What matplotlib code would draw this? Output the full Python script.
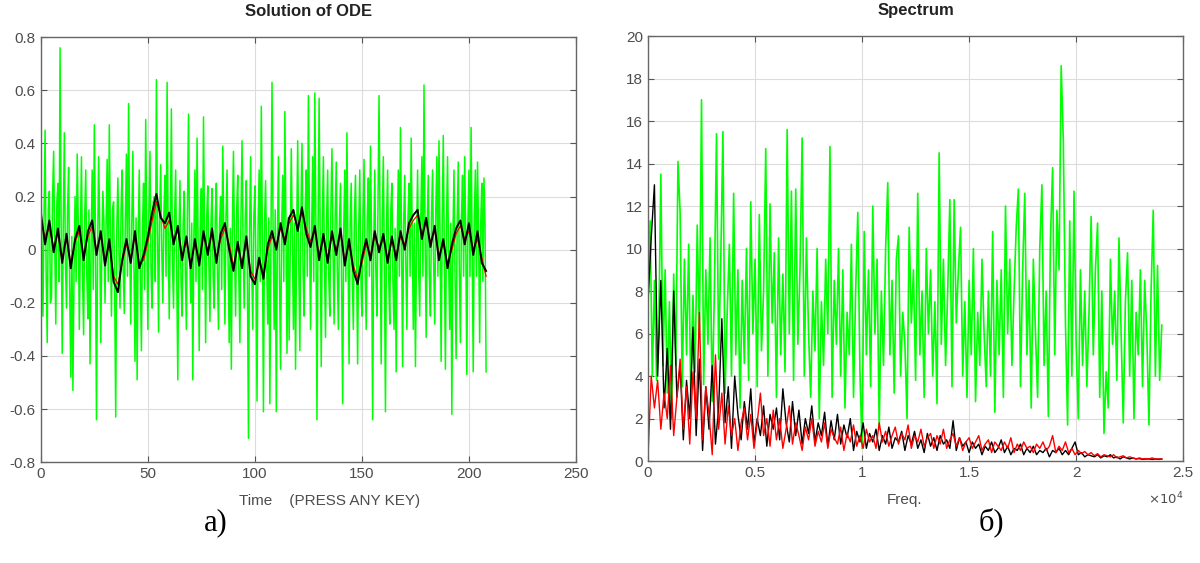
import numpy as np
import matplotlib
matplotlib.use('Agg')
from matplotlib import pyplot as plt
from matplotlib.ticker import FuncFormatter

plt.rcParams['font.family'] = ['Liberation Sans', 'DejaVu Sans']
plt.rcParams['axes.unicode_minus'] = False

# left panel: solution of ODE, sampled over time 0..208
ode_green = [
    0.28, 0.05, -0.25, 0.12, 0.45, -0.1, -0.35, 0.15, 0.22, -0.2, -0.18, 0.2, 0.37, 0.02, -0.28, 0.18, 0.25, -0.12, 0.76, 0.1,
    -0.39, 0.1, 0.44, -0.05, -0.22, 0.15, 0.31, -0.15, -0.48, 0.05, -0.53, -0.1, 0.2, -0.12, 0.36, 0.1, -0.3, 0.05, 0.35, -0.1,
    -0.32, 0.12, 0.3, -0.1, -0.26, 0.15, -0.43, 0.02, 0.3, -0.15, 0.47, 0.08, -0.64, -0.05, 0.35, 0.1, -0.35, 0.0, 0.22, 0.1,
    -0.2, 0.1, 0.34, -0.12, 0.47, 0.05, -0.25, 0.15, 0.18, -0.15, -0.63, 0.08, 0.27, 0.0, -0.22, 0.15, 0.3, -0.08, -0.24, 0.12,
    0.36, -0.1, 0.55, 0.05, -0.28, 0.1, 0.37, -0.05, -0.42, 0.12, -0.49, 0.05, 0.3, -0.1, -0.38, 0.08, 0.25, -0.15, 0.49, 0.05,
    -0.3, 0.15, 0.37, -0.08, -0.22, 0.18, 0.2, -0.12, 0.64, 0.1, -0.31, 0.12, 0.32, 0.0, -0.2, 0.14, 0.28, -0.1, 0.63, 0.05,
    -0.26, 0.08, 0.53, -0.05, -0.22, 0.12, 0.3, -0.1, -0.49, 0.05, 0.26, -0.12, -0.25, 0.1, 0.22, -0.08, -0.3, 0.15, 0.51, 0.02,
    -0.2, 0.1, -0.49, 0.05, 0.3, -0.12, 0.42, 0.0, -0.38, 0.1, 0.23, -0.15, 0.5, 0.05, -0.35, 0.12, 0.24, -0.05, -0.27, 0.1,
    0.23, -0.1, -0.22, 0.12, 0.25, -0.08, -0.3, 0.1, 0.2, -0.15, 0.39, 0.05, -0.28, 0.12, 0.3, -0.05, -0.35, 0.08, -0.45, 0.1,
    0.37, 0.0, -0.25, 0.15, 0.28, -0.1, -0.35, 0.12, 0.41, 0.02, -0.22, 0.12, 0.26, -0.1, -0.71, 0.05, 0.35, -0.05, -0.3, 0.12,
    0.24, -0.08, -0.57, 0.1, 0.3, -0.12, 0.54, 0.05, -0.61, 0.1, 0.26, -0.05, -0.28, 0.12, -0.58, 0.05, 0.63, 0.08, -0.3, 0.15,
    -0.61, 0.02, 0.35, -0.1, -0.45, 0.08, 0.28, -0.12, 0.52, 0.1, -0.39, 0.12, -0.34, -0.02, 0.38, 0.05, -0.3, 0.1, -0.45, 0.05,
    0.41, -0.05, -0.38, 0.12, 0.4, -0.08, -0.25, 0.15, 0.3, -0.1, 0.58, 0.1, -0.3, 0.05, 0.35, -0.12, 0.59, 0.1, -0.64, 0.05,
    0.57, 0.05, -0.44, 0.1, 0.35, -0.05, -0.33, 0.12, 0.3, -0.1, -0.25, 0.15, 0.38, 0.0, -0.28, 0.12, 0.33, -0.08, -0.3, 0.1,
    0.25, -0.1, -0.58, 0.08, 0.3, -0.12, 0.44, 0.02, -0.43, 0.1, 0.25, -0.1, -0.3, 0.12, 0.28, -0.05, -0.43, 0.08, 0.3, -0.1,
    -0.25, 0.12, 0.34, -0.08, -0.3, 0.12, 0.27, -0.1, 0.39, 0.05, -0.64, 0.0, 0.3, -0.08, -0.25, 0.15, 0.58, 0.05, -0.43, 0.1,
    0.35, -0.05, -0.61, 0.1, 0.3, -0.1, -0.28, 0.15, 0.25, -0.12, -0.3, 0.08, -0.46, 0.05, 0.3, -0.1, 0.46, 0.05, -0.44, 0.1,
    0.28, -0.05, -0.3, 0.12, 0.25, -0.1, 0.42, 0.05, -0.3, 0.1, -0.44, 0.02, 0.3, -0.08, -0.25, 0.12, 0.35, -0.1, 0.62, 0.05,
    -0.33, 0.1, 0.28, -0.1, -0.25, 0.12, 0.3, -0.05, -0.28, 0.15, 0.35, -0.1, 0.41, 0.05, -0.42, 0.08, 0.43, 0.0, -0.45, 0.1,
    0.35, -0.05, -0.3, 0.1, -0.62, 0.05, 0.3, -0.1, -0.41, 0.1, 0.33, -0.08, -0.35, 0.12, 0.28, -0.1, 0.35, 0.05, -0.47, 0.1,
    0.3, -0.1, 0.46, 0.0, -0.46, 0.12, 0.3, -0.1, 0.33, 0.05, -0.35, 0.1, 0.25, -0.12, 0.27, 0.1, -0.46,
]
ode_black = [
    0.14, 0.02, 0.11, -0.01, 0.08, -0.05, 0.06, -0.07, 0.04, 0.09,
    -0.04, 0.07, 0.11, -0.02, 0.07, -0.06, 0.04, -0.12, -0.16, -0.04,
    0.04, -0.05, 0.07, -0.07, -0.02, 0.05, 0.14, 0.21, 0.12, 0.1,
    0.14, 0.02, 0.09, -0.04, 0.05, -0.07, 0.04, -0.06, 0.07, -0.02,
    0.08, -0.05, 0.06, 0.1, 0.0, -0.08, 0.03, -0.07, 0.05, -0.1,
    -0.13, -0.03, -0.11, 0.02, 0.07, 0.0, 0.1, 0.02, 0.12, 0.15,
    0.07, 0.16, 0.06, 0.01, 0.09, -0.04, 0.06, -0.05, 0.07, -0.02,
    0.08, -0.06, 0.04, -0.08, -0.13, -0.03, 0.04, -0.04, 0.07, -0.01,
    0.06, -0.05, 0.05, -0.04, 0.07, 0.0, 0.1, 0.13, 0.15, 0.04,
    0.12, 0.01, 0.09, -0.04, 0.04, -0.07, 0.02, 0.08, 0.11, 0.02,
    0.1, -0.02, 0.07, -0.05, -0.08,
]
ode_red = [
    0.1, 0.05, 0.08, 0.01, 0.06, -0.03, 0.04, -0.05, 0.03, 0.07,
    -0.02, 0.05, 0.09, 0.0, 0.05, -0.04, 0.02, -0.1, -0.13, -0.05,
    0.02, -0.03, 0.05, -0.05, -0.04, 0.03, 0.11, 0.18, 0.13, 0.08,
    0.11, 0.04, 0.07, -0.02, 0.03, -0.05, 0.02, -0.04, 0.05, 0.0,
    0.06, -0.03, 0.04, 0.08, 0.02, -0.06, 0.01, -0.05, 0.03, -0.08,
    -0.11, -0.05, -0.09, 0.0, 0.05, 0.02, 0.08, 0.04, 0.1, 0.13,
    0.09, 0.14, 0.08, 0.03, 0.07, -0.02, 0.04, -0.03, 0.05, 0.0,
    0.06, -0.04, 0.02, -0.06, -0.11, -0.05, 0.02, -0.02, 0.05, 0.01,
    0.04, -0.03, 0.03, -0.02, 0.05, 0.02, 0.08, 0.11, 0.13, 0.06,
    0.1, 0.03, 0.07, -0.02, 0.02, -0.05, 0.0, 0.06, 0.09, 0.04,
    0.07, 0.0, 0.04, -0.03, -0.1,
]

# right panel: spectrum, 0..24000 Hz
spec_green = [
    7.2, 11.3, 4.0, 8.5, 3.8, 6.0, 13.5, 4.5, 9.0, 3.2,
    7.5, 2.0, 8.8, 4.5, 14.1, 11.7, 3.5, 9.5, 5.0, 10.2,
    3.0, 7.8, 4.2, 11.1, 6.0, 17.0, 3.6, 9.0, 5.5, 10.5,
    2.8, 8.0, 15.4, 4.8, 9.5, 15.5, 3.2, 7.0, 10.2, 4.0,
    12.6, 5.0, 9.0, 2.5, 8.5, 4.6, 10.0, 3.8, 12.2, 6.0,
    9.5, 3.5, 11.6, 5.2, 8.0, 14.7, 4.0, 12.1, 6.5, 9.8,
    3.0, 10.5, 5.0, 8.8, 4.2, 15.6, 6.0, 12.7, 3.8, 12.8,
    5.5, 9.0, 15.2, 4.0, 10.5, 6.0, 3.0, 8.0, 5.2, 10.0,
    2.0, 7.5, 4.5, 9.5, 6.0, 14.8, 3.0, 8.5, 5.5, 10.0,
    4.0, 9.0, 2.5, 7.0, 5.0, 10.2, 3.0, 8.0, 11.7, 4.2,
    0.6, 10.8, 5.0, 9.0, 3.5, 12.0, 6.0, 9.5, 1.5, 8.0,
    4.5, 10.0, 13.1, 5.0, 8.5, 3.2, 9.5, 10.6, 4.0, 7.0,
    5.5, 2.0, 11.0, 6.5, 9.0, 3.8, 12.6, 5.0, 8.0, 3.0,
    10.0, 6.0, 9.0, 4.0, 7.5, 2.7, 14.5, 5.5, 9.5, 4.5,
    8.0, 12.3, 3.5, 12.3, 6.5, 9.0, 11.0, 4.0, 7.5, 3.0,
    8.5, 5.0, 10.0, 2.8, 7.0, 4.5, 9.5, 6.0, 3.5, 8.0,
    4.0, 10.8, 2.3, 8.5, 5.0, 9.0, 3.0, 12.0, 6.0, 9.5,
    4.5, 8.0, 11.0, 12.8, 3.5, 9.0, 12.6, 5.0, 8.5, 2.5,
    9.5, 6.0, 3.0, 10.0, 13.0, 4.5, 8.0, 2.1, 10.5, 13.8,
    5.0, 11.8, 9.0, 18.6, 15.1, 6.5, 1.7, 11.3, 4.0, 12.7,
    5.5, 2.0, 9.0, 4.5, 8.0, 3.5, 7.0, 11.5, 5.0, 9.0,
    11.2, 3.0, 8.0, 1.3, 4.2, 2.5, 9.5, 5.5, 8.0, 3.8,
    10.5, 6.0, 1.8, 7.5, 9.8, 4.0, 8.5, 2.0, 7.0, 5.0,
    9.0, 3.5, 8.5, 6.0, 1.7, 8.0, 11.8, 4.0, 9.2, 3.8,
    6.4,
]
spec_black = [
    7.5, 10.5, 13.0, 4.0, 8.5, 2.5, 5.3, 1.5, 8.0, 3.0,
    4.5, 1.0, 3.8, 2.0, 6.3, 1.2, 4.8, 0.5, 3.5, 1.5,
    4.5, 0.8, 2.5, 6.7, 1.8, 3.5, 0.6, 4.0, 2.2, 1.0,
    2.8, 1.5, 3.4, 0.8, 2.0, 1.2, 2.6, 0.7, 2.2, 1.5,
    2.5, 1.0, 3.4, 1.8, 0.9, 2.8, 1.2, 2.4, 0.8, 2.0,
    1.3, 2.6, 0.9, 1.8, 1.2, 2.3, 0.7, 1.9, 1.0, 2.2,
    0.8, 1.7, 1.1, 2.0, 0.5, 1.4, 0.9, 1.8, 0.6, 1.3,
    0.9, 1.5, 0.5, 1.2, 0.8, 1.6, 0.6, 1.1, 0.9, 1.4,
    0.5, 1.2, 0.8, 1.4, 0.6, 1.0, 0.4, 1.3, 0.7, 1.1,
    0.5, 1.2, 0.8, 1.0, 0.6, 1.9, 0.5, 1.1, 0.7, 0.9,
    0.4, 0.9, 0.6, 0.8, 0.3, 0.7, 0.5, 0.9, 0.4, 0.6,
    1.0, 0.4, 0.7, 0.3, 0.6, 0.5, 0.8, 0.3, 0.6, 0.4,
    0.7, 0.3, 0.5, 0.4, 0.6, 0.2, 0.5, 0.4, 0.6, 0.3,
    0.5, 0.3, 0.6, 0.9, 0.3, 0.4, 0.2, 0.3, 0.25, 0.2,
    0.3, 0.15, 0.25, 0.2, 0.3, 0.15, 0.2, 0.1, 0.2, 0.15,
    0.1, 0.15, 0.1, 0.12, 0.08, 0.1, 0.1, 0.08, 0.1, 0.08,
    0.1,
]
spec_red = [
    0.2, 4.0, 2.5, 3.8, 1.5, 3.2, 2.0, 4.5, 1.2, 3.0,
    4.8, 1.5, 3.5, 0.8, 4.2, 2.0, 7.0, 1.0, 3.5, 2.2,
    0.3, 5.0, 1.5, 3.2, 0.8, 2.6, 1.2, 2.0, 0.5, 1.8,
    2.5, 1.0, 2.2, 0.6, 1.8, 3.2, 1.2, 2.0, 0.7, 2.4,
    1.0, 2.0, 0.6, 1.5, 2.6, 0.8, 1.8, 1.2, 0.5, 1.6,
    1.0, 2.0, 0.7, 1.4, 0.9, 1.8, 0.6, 1.5, 1.1, 0.8,
    1.6, 0.5, 1.3, 0.9, 1.7, 0.7, 1.2, 0.6, 1.5, 0.9,
    1.2, 0.6, 1.8, 0.9, 1.4, 0.7, 1.2, 1.6, 0.8, 1.3,
    1.0, 1.7, 0.6, 1.2, 0.9, 1.5, 0.7, 1.1, 1.3, 0.6,
    1.2, 0.8, 1.5, 0.6, 1.0, 1.3, 0.7, 1.1, 0.5, 0.9,
    1.1, 0.6, 0.9, 1.2, 0.5, 0.8, 1.0, 0.4, 0.9, 0.7,
    0.5, 0.9, 0.6, 1.1, 0.4, 0.8, 0.5, 0.9, 0.6, 0.7,
    0.4, 0.8, 0.6, 0.9, 0.5, 0.7, 1.2, 0.4, 0.7, 0.5,
    0.9, 0.4, 0.6, 0.3, 0.5, 0.35, 0.45, 0.3, 0.4, 0.25,
    0.35, 0.2, 0.3, 0.25, 0.2, 0.3, 0.15, 0.2, 0.25, 0.15,
    0.2, 0.15, 0.1, 0.15, 0.1, 0.12, 0.1, 0.15, 0.1, 0.1,
    0.1,
]

t_end = 208
f_end = 24000

left_yticks = [-0.8, -0.6, -0.4, -0.2, 0, 0.2, 0.4, 0.6, 0.8]
left_xticks = [0, 50, 100, 150, 200, 250]
right_yticks = [0, 2, 4, 6, 8, 10, 12, 14, 16, 18, 20]
right_xticks = [0, 5000, 10000, 15000, 20000, 25000]

GREEN = '#00ff00'
TXT = '#4d4d4d'


def style_axes(ax):
    ax.grid(True, color='#dcdcdc', linewidth=0.8)
    ax.set_axisbelow(True)
    for s in ax.spines.values():
        s.set_color('#666666')
        s.set_linewidth(1.0)
    ax.tick_params(direction='in', length=4, width=0.8, colors='#555555',
                   labelcolor=TXT, labelsize=11, top=True, right=True)


fig = plt.figure(figsize=(12, 5.63), dpi=100)

ax1 = fig.add_axes([0.034, 0.179, 0.446, 0.755])
ax1.plot(np.linspace(0, t_end, len(ode_green)), ode_green, color=GREEN, lw=1.1)
ax1.plot(np.linspace(0, t_end, len(ode_red)), ode_red, color='red', lw=0.9)
ax1.plot(np.linspace(0, t_end, len(ode_black)), ode_black, color='black', lw=1.4)
ax1.set_xlim(0, 250)
ax1.set_ylim(-0.8, 0.8)
ax1.set_xticks(left_xticks)
ax1.set_yticks(left_yticks)
ax1.yaxis.set_major_formatter(FuncFormatter(lambda v, p: ('%g' % round(v, 2))))
style_axes(ax1)
ax1.set_title('Solution of ODE', fontsize=12, fontweight='bold', color='#222222', pad=15)
ax1.set_xlabel('Time    (PRESS ANY KEY)', fontsize=11, color=TXT)
ax1.xaxis.set_label_coords(0.54, -0.075)

ax2 = fig.add_axes([0.54, 0.181, 0.446, 0.755])
ax2.plot(np.linspace(0, f_end, len(spec_green)), spec_green, color=GREEN, lw=1.2)
ax2.plot(np.linspace(0, f_end, len(spec_black)), spec_black, color='black', lw=1.0)
ax2.plot(np.linspace(0, f_end, len(spec_red)), spec_red, color='red', lw=1.0)
ax2.set_xlim(0, 25000)
ax2.set_ylim(0, 20)
ax2.set_xticks(right_xticks)
ax2.set_yticks(right_yticks)
ax2.xaxis.set_major_formatter(FuncFormatter(lambda v, p: '%g' % (v / 1e4)))
style_axes(ax2)
ax2.set_title('Spectrum', fontsize=12, fontweight='bold', color='#222222', pad=15)
ax2.set_xlabel('Freq.', fontsize=11, color=TXT)
ax2.xaxis.set_label_coords(0.48, -0.075)
ax2.text(1.0, -0.09, r'$\times10^{4}$', transform=ax2.transAxes, ha='right', va='center',
         fontsize=9.5, color=TXT)

fig.text(0.18, 0.072, 'а)', fontsize=22, family='Liberation Serif', ha='center', va='center')
fig.text(0.826, 0.072, 'б)', fontsize=22, family='Liberation Serif', ha='center', va='center')

fig.savefig('out.png', dpi=100)
